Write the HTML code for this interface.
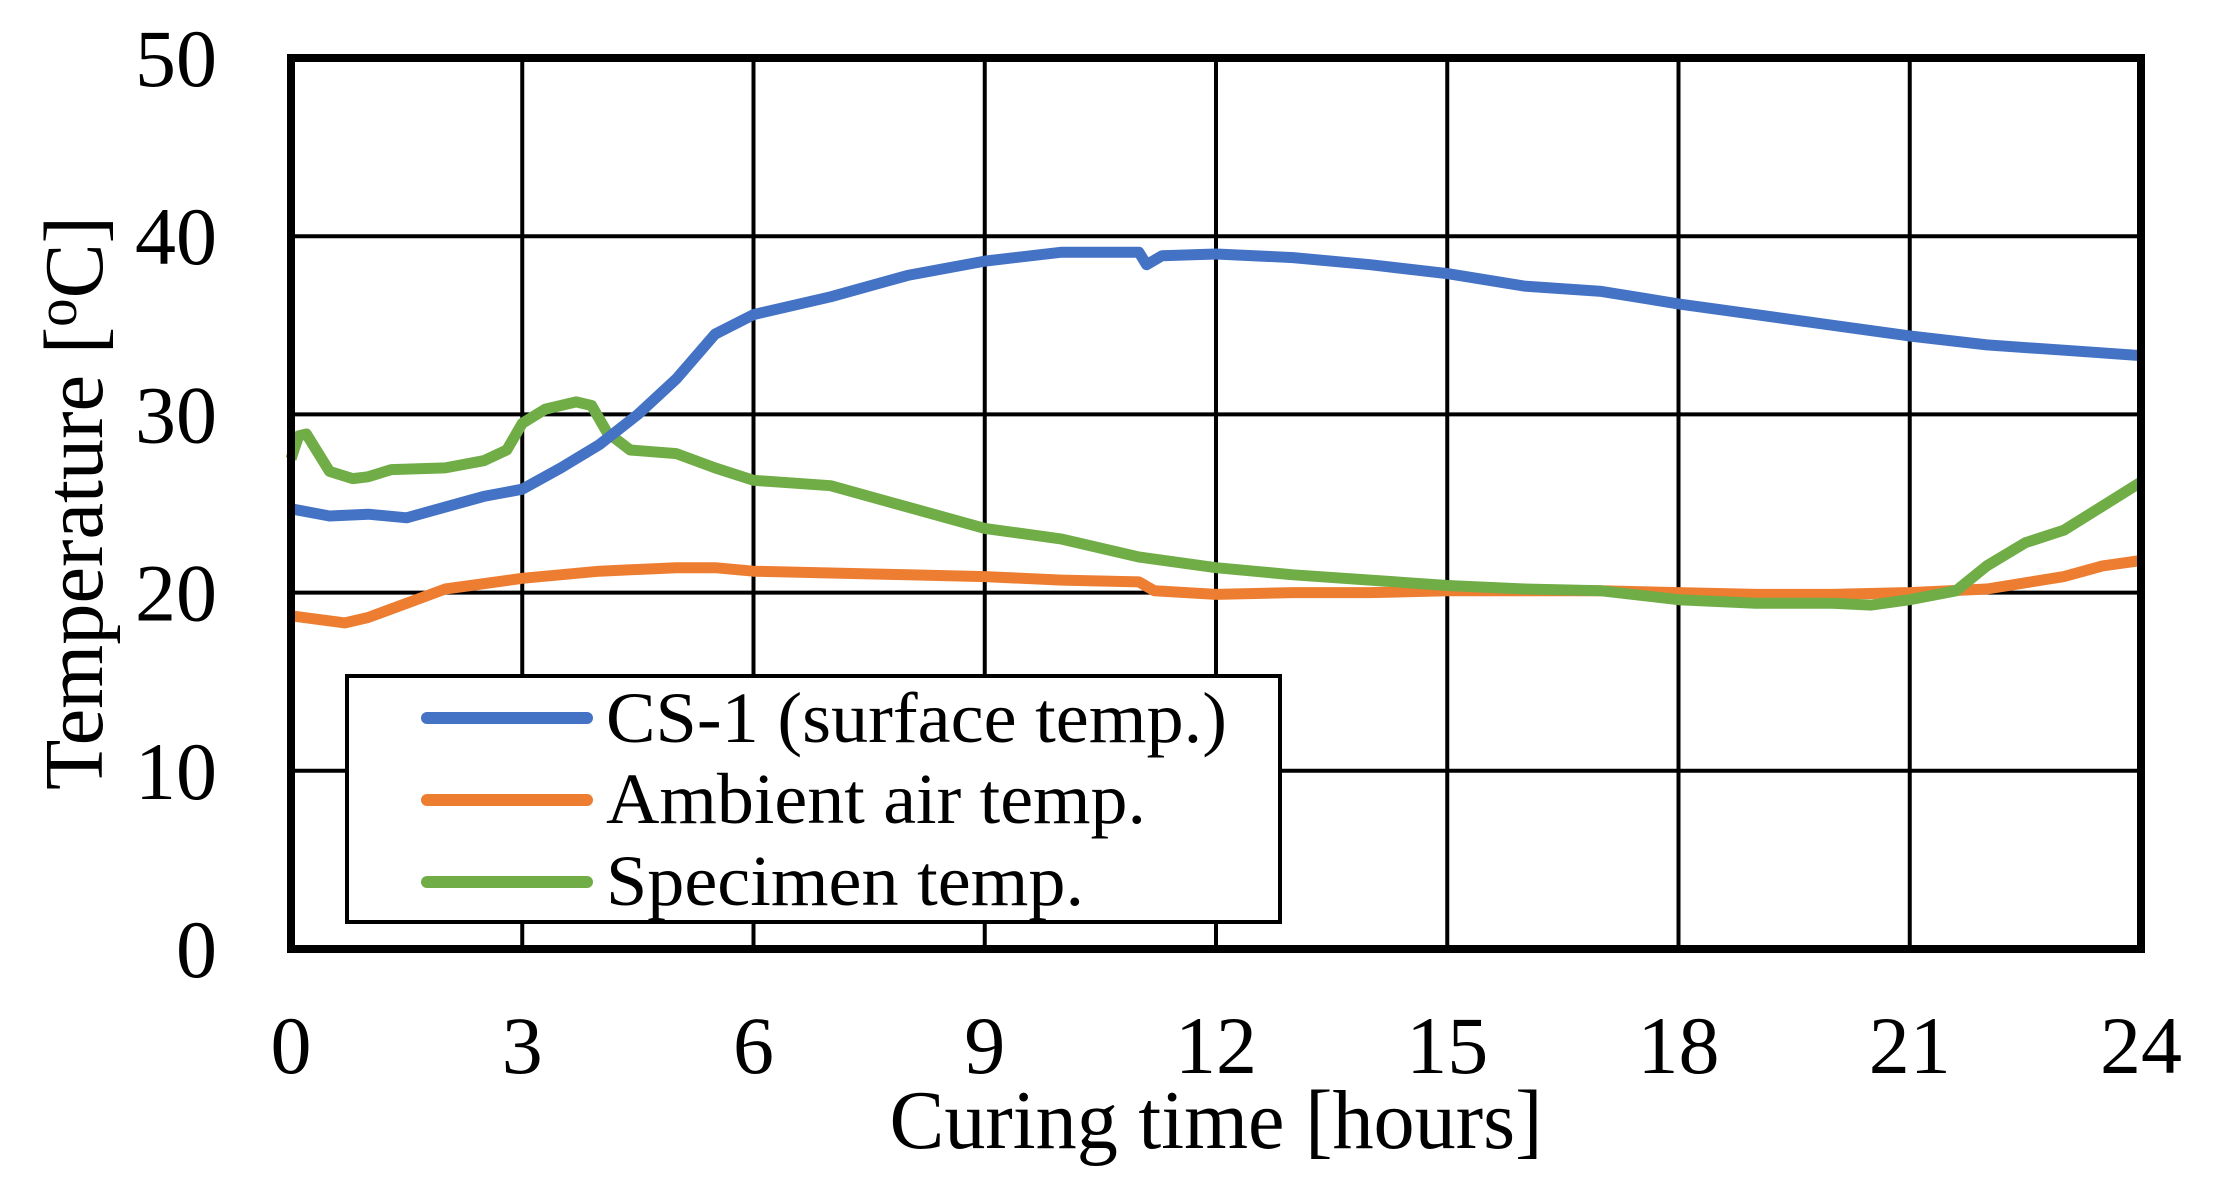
<!DOCTYPE html>
<html><head><meta charset="utf-8"><style>
html,body{margin:0;padding:0;background:#fff;}
svg{display:block;font-family:"Liberation Serif","Times New Roman",serif;}
</style></head><body>
<svg id="chart" width="2215" height="1186" viewBox="0 0 2215 1186" xmlns="http://www.w3.org/2000/svg">
<g id="grid"></g>
<g id="series"></g>
<rect x="291" y="58" width="1850" height="891" fill="none" stroke="#000" stroke-width="8"/>
<g id="ticks" font-size="82" fill="#000"></g>
<text x="1216" y="1148" font-size="84" text-anchor="middle" textLength="653" lengthAdjust="spacingAndGlyphs">Curing time [hours]</text>
<text transform="translate(102,503) rotate(-90)" font-size="84" text-anchor="middle" textLength="574" lengthAdjust="spacingAndGlyphs">Temperature [<tspan font-size="58" dy="-26">o</tspan><tspan dy="26">C]</tspan></text>
<g>
<rect x="347" y="676" width="933" height="246" fill="#fff" stroke="#000" stroke-width="4"/>
<line x1="427" y1="718" x2="587" y2="718" stroke="#4472C4" stroke-width="12" stroke-linecap="round"/>
<line x1="427" y1="800" x2="587" y2="800" stroke="#ED7D31" stroke-width="12" stroke-linecap="round"/>
<line x1="427" y1="882" x2="587" y2="882" stroke="#70AD47" stroke-width="12" stroke-linecap="round"/>
<text x="606" y="742" font-size="72" textLength="621" lengthAdjust="spacingAndGlyphs">CS-1 (surface temp.)</text>
<text x="606" y="823" font-size="72" textLength="540" lengthAdjust="spacingAndGlyphs">Ambient air temp.</text>
<text x="606" y="905" font-size="72" textLength="478" lengthAdjust="spacingAndGlyphs">Specimen temp.</text>
</g>
</svg>
<script>
const xTicks = [0,3,6,9,12,15,18,21,24];
const yTicks = [0,10,20,30,40,50];
const csT = [0,0.5,1,1.5,2,2.5,3,3.5,4,4.5,5,5.5,6,7,8,9,10,11,11.1,11.3,12,13,14,15,16,17,18,19,20,21,22,23,24];
const csV = [24.7,24.3,24.4,24.2,24.8,25.4,25.8,27,28.3,30,32,34.5,35.6,36.6,37.8,38.6,39.1,39.1,38.4,38.9,39.0,38.8,38.4,37.9,37.2,36.9,36.2,35.6,35,34.4,33.9,33.6,33.3];
const ambT = [0,0.7,1,1.5,2,3,4,5,5.5,6,7,8,9,10,11,11.2,12,13,14,15,16,17,18,19,20,21,22,23,23.5,24];
const ambV = [18.7,18.3,18.6,19.4,20.2,20.8,21.2,21.4,21.4,21.2,21.1,21,20.9,20.7,20.6,20.1,19.9,20,20,20.1,20.1,20.1,20,19.9,19.9,20,20.2,20.9,21.5,21.8];
const spT = [0,0.1,0.2,0.3,0.5,0.8,1,1.3,2,2.5,2.8,3,3.3,3.7,3.9,4.1,4.4,5,5.5,6,7,8,9,10,11,12,13,14,15,16,17,18,19,20,20.5,21,21.6,22,22.5,23,24];
const spV = [27.5,28.8,28.9,28.2,26.8,26.4,26.5,26.9,27,27.4,28,29.5,30.3,30.7,30.5,29,28,27.8,27,26.3,26,24.8,23.6,23,22,21.4,21,20.7,20.4,20.2,20.1,19.6,19.4,19.4,19.3,19.6,20.1,21.5,22.8,23.5,26.2];

const X0=291, X1=2141, Y0=949, Y1=58;
const xs = t => X0 + (t/24)*(X1-X0);
const ys = v => Y0 - (v/50)*(Y0-Y1);
const NS='http://www.w3.org/2000/svg';
const grid=document.getElementById('grid'), ticks=document.getElementById('ticks'), series=document.getElementById('series');

xTicks.forEach(t=>{
  const l=document.createElementNS(NS,'line');
  
  
  l.setAttribute('x1',xs(t));l.setAttribute('x2',xs(t));l.setAttribute('y1',Y1);l.setAttribute('y2',Y0);
  l.setAttribute('stroke','#000');l.setAttribute('stroke-width','4');
  grid.appendChild(l);
  const tx=document.createElementNS(NS,'text');
  
  
  tx.setAttribute('x',xs(t));tx.setAttribute('y',1073);tx.setAttribute('text-anchor','middle');
  tx.textContent=t;ticks.appendChild(tx);
});
yTicks.forEach(v=>{
  const l=document.createElementNS(NS,'line');
  
  
  l.setAttribute('x1',X0);l.setAttribute('x2',X1);l.setAttribute('y1',ys(v));l.setAttribute('y2',ys(v));
  l.setAttribute('stroke','#000');l.setAttribute('stroke-width','4');
  grid.appendChild(l);
  const tx=document.createElementNS(NS,'text');
  
  
  tx.setAttribute('x',217);tx.setAttribute('y',ys(v)+28);tx.setAttribute('text-anchor','end');
  tx.textContent=v;ticks.appendChild(tx);
});
function drawLine(T,V,color,name){
  const p=document.createElementNS(NS,'polyline');
  
  
  p.setAttribute('points',T.map((t,i)=>xs(t).toFixed(1)+','+ys(V[i]).toFixed(1)).join(' '));
  p.setAttribute('fill','none');p.setAttribute('stroke',color);p.setAttribute('stroke-width','11');
  p.setAttribute('stroke-linejoin','round');
  series.appendChild(p);
}
drawLine(ambT,ambV,'#ED7D31','ambient-air-line');
drawLine(spT,spV,'#70AD47','specimen-line');
drawLine(csT,csV,'#4472C4','cs1-surface-line');
</script>
</body></html>
